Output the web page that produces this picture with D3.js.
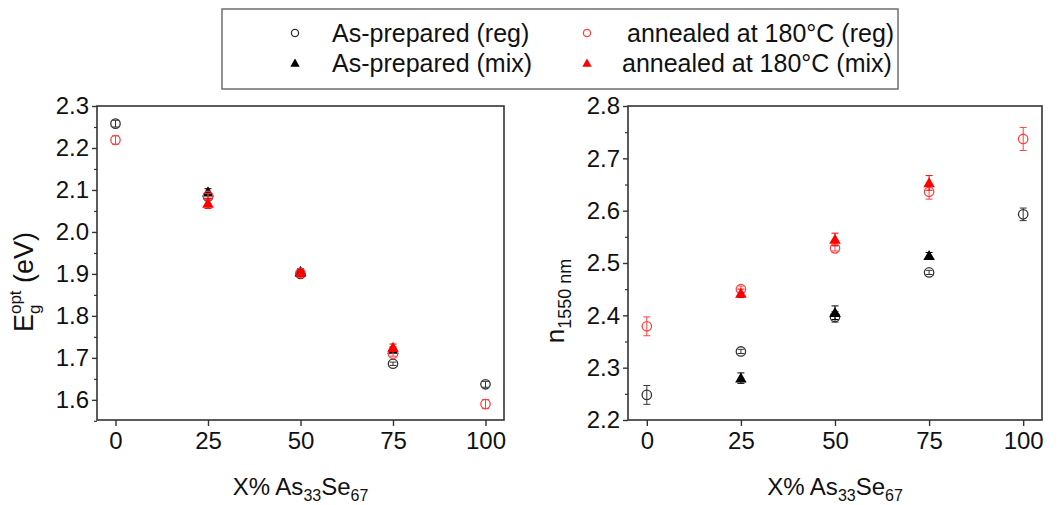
<!DOCTYPE html>
<html>
<head>
<meta charset="utf-8">
<script src="https://cdn.jsdelivr.net/npm/d3@7"></script>
<style>
  body { margin: 0; background: #fff; }
  text { font-family: "Liberation Sans", Arial, sans-serif; fill: #111; }
</style>
</head>
<body>
<script>
"use strict";

// x positions (X% As33Se67)
const xCats = [0, 25, 50, 75, 100];
const xMix = [25, 50, 75];
const xTicks = [0, 25, 50, 75, 100];

// optical band gap Eg (eV)
const egPrepReg = [2.258, 2.084, 1.900, 1.686, 1.637];
const egPrepRegErr = [0.008, 0.006, 0.005, 0.004, 0.007];
const egAnnReg = [2.219, 2.086, 1.902, 1.710, 1.590];
const egAnnRegErr = [0.010, 0.006, 0.005, 0.006, 0.011];
const egPrepMix = [2.095, 1.906, 1.720];
const egPrepMixErr = [0.008, 0.006, 0.006];
const egAnnMix = [2.068, 1.903, 1.725];
const egAnnMixErr = [0.012, 0.006, 0.008];
const egTicks = [1.6, 1.7, 1.8, 1.9, 2.0, 2.1, 2.2, 2.3];
const egMinor = [1.55, 1.65, 1.75, 1.85, 1.95, 2.05, 2.15, 2.25];

// refractive index at 1550 nm
const nPrepReg = [2.248, 2.331, 2.397, 2.482, 2.593];
const nPrepRegErr = [0.018, 0.004, 0.010, 0.004, 0.012];
const nAnnReg = [2.379, 2.450, 2.528, 2.636, 2.737];
const nAnnRegErr = [0.018, 0.006, 0.005, 0.014, 0.022];
const nPrepMix = [2.280, 2.405, 2.514];
const nPrepMixErr = [0.010, 0.013, 0.006];
const nAnnMix = [2.442, 2.545, 2.653];
const nAnnMixErr = [0.008, 0.012, 0.014];
const nTicks = [2.2, 2.3, 2.4, 2.5, 2.6, 2.7, 2.8];
const nMinor = [2.25, 2.35, 2.45, 2.55, 2.65, 2.75];

const legendLabels = ["As-prepared (reg)", "As-prepared (mix)",
                      "annealed at 180°C (reg)", "annealed at 180°C (mix)"];

const W = 1064, H = 505;
const axisColor = "#333";

// series look
const styles = {
    prepReg: {shape: "circle", color: "#333"},
    prepMix: {shape: "triangle", color: "#000"},
    annReg: {shape: "circle", color: "#ff4040"},
    annMix: {shape: "triangle", color: "#ff0000"}
};

const svg = d3.select("body").append("svg")
    .attr("width", W)
    .attr("height", H);

function drawMarker(g, shape, color, cx, cy, big) {
    if (shape === "circle") {
        g.append("circle")
            .attr("cx", cx).attr("cy", cy)
            .attr("r", big ? 4.7 : 3.6)
            .attr("fill", "none")
            .attr("stroke", color)
            .attr("stroke-width", 1.3);
    } else {
        g.append("path")
            .attr("d", d3.symbol().type(d3.symbolTriangle).size(big ? 58 : 38)())
            .attr("transform", "translate(" + cx + "," + (cy + 1) + ")")
            .attr("fill", color);
    }
}

function drawSeries(g, xScale, yScale, xs, vals, errs, st) {
    const pts = xs.map((d, i) => ({x: d, v: vals[i], e: errs[i]}));
    const grp = g.append("g");
    // error bars
    pts.forEach(p => {
        const px = xScale(p.x);
        const y0 = yScale(p.v - p.e), y1 = yScale(p.v + p.e);
        grp.append("line").attr("x1", px).attr("x2", px).attr("y1", y0).attr("y2", y1)
            .attr("stroke", st.color).attr("stroke-width", 1);
        [y0, y1].forEach(yy => grp.append("line")
            .attr("x1", px - 3.5).attr("x2", px + 3.5).attr("y1", yy).attr("y2", yy)
            .attr("stroke", st.color).attr("stroke-width", 1));
    });
    pts.forEach(p => drawMarker(grp, st.shape, st.color, xScale(p.x), yScale(p.v), true));
}

function drawPanel(cfg) {
    const xScale = d3.scaleLinear().domain([-5, 105]).range([cfg.left, cfg.right]);
    const yScale = d3.scaleLinear().domain(cfg.yDomain).range([cfg.bottom, cfg.top]);

    // x axis
    svg.append("g")
        .attr("transform", "translate(0," + cfg.bottom + ")")
        .call(d3.axisBottom(xScale).tickValues(xTicks).tickSize(6).tickPadding(6).tickSizeOuter(0))
        .call(g => g.select(".domain").remove())
        .call(g => g.selectAll("line").attr("stroke", axisColor).attr("stroke-width", 1.4))
        .call(g => g.selectAll("text").style("font-size", "24px").attr("fill", "#111"));

    // y axis major + minor
    svg.append("g")
        .attr("transform", "translate(" + cfg.left + ",0)")
        .call(d3.axisLeft(yScale).tickValues(cfg.ticks).tickFormat(d3.format(".1f"))
            .tickSize(5).tickPadding(3).tickSizeOuter(0))
        .call(g => g.select(".domain").remove())
        .call(g => g.selectAll("line").attr("stroke", axisColor).attr("stroke-width", 1.4))
        .call(g => g.selectAll("text").style("font-size", "24px").attr("fill", "#111"));
    svg.append("g")
        .attr("transform", "translate(" + cfg.left + ",0)")
        .call(d3.axisLeft(yScale).tickValues(cfg.minor).tickFormat("").tickSize(3).tickSizeOuter(0))
        .call(g => g.select(".domain").remove())
        .call(g => g.selectAll("line").attr("stroke", axisColor).attr("stroke-width", 1.2));

    // frame
    svg.append("rect")
        .attr("x", cfg.left).attr("y", cfg.top)
        .attr("width", cfg.right - cfg.left).attr("height", cfg.bottom - cfg.top)
        .attr("fill", "none").attr("stroke", axisColor).attr("stroke-width", 1.6);

    const plot = svg.append("g");
    drawSeries(plot, xScale, yScale, xCats, cfg.prepReg, cfg.prepRegErr, styles.prepReg);
    drawSeries(plot, xScale, yScale, xMix, cfg.prepMix, cfg.prepMixErr, styles.prepMix);
    drawSeries(plot, xScale, yScale, xCats, cfg.annReg, cfg.annRegErr, styles.annReg);
    drawSeries(plot, xScale, yScale, xMix, cfg.annMix, cfg.annMixErr, styles.annMix);

    // x title: X% As33Se67
    const xt = svg.append("text")
        .attr("x", (cfg.left + cfg.right) / 2)
        .attr("y", 495)
        .attr("text-anchor", "middle")
        .style("font-size", "24px");
    xt.append("tspan").text("X% As");
    xt.append("tspan").attr("dy", 6).style("font-size", "16px").text("33");
    xt.append("tspan").attr("dy", -6).text("Se");
    xt.append("tspan").attr("dy", 6).style("font-size", "16px").text("67");

    // y title
    const yt = svg.append("text")
        .attr("transform", "translate(" + cfg.yTitleX + "," + cfg.yTitleY + ") rotate(-90)")
        .attr("text-anchor", "middle")
        .style("font-size", cfg.yTitleSize);
    cfg.yTitle(yt);
}

function egTitle(t) {
    t.append("tspan").text("E");
    const sup = t.append("tspan").attr("dy", -12).style("font-size", "17px").text("opt");
    const w = sup.node().getComputedTextLength();
    const sub = t.append("tspan").attr("dx", -w).attr("dy", 19).style("font-size", "17px").text("g");
    const ws = sub.node().getComputedTextLength();
    t.append("tspan").attr("dx", w - ws).attr("dy", -7).text(" (eV)");
}

function nTitle(t) {
    t.append("tspan").text("n");
    t.append("tspan").attr("dy", 7).style("font-size", "18px").text("1550 nm");
}

drawPanel({
    left: 97, right: 504, top: 106, bottom: 420,
    yDomain: [1.552, 2.3], ticks: egTicks, minor: egMinor,
    prepReg: egPrepReg, prepRegErr: egPrepRegErr,
    prepMix: egPrepMix, prepMixErr: egPrepMixErr,
    annReg: egAnnReg, annRegErr: egAnnRegErr,
    annMix: egAnnMix, annMixErr: egAnnMixErr,
    yTitleX: 33, yTitleY: 282, yTitleSize: "27px", yTitle: egTitle
});

drawPanel({
    left: 628, right: 1042, top: 106, bottom: 420,
    yDomain: [2.2, 2.8], ticks: nTicks, minor: nMinor,
    prepReg: nPrepReg, prepRegErr: nPrepRegErr,
    prepMix: nPrepMix, prepMixErr: nPrepMixErr,
    annReg: nAnnReg, annRegErr: nAnnRegErr,
    annMix: nAnnMix, annMixErr: nAnnMixErr,
    yTitleX: 564, yTitleY: 301, yTitleSize: "26px", yTitle: nTitle
});

// legend
const legend = svg.append("g");
legend.append("rect")
    .attr("x", 222).attr("y", 9).attr("width", 676).attr("height", 80)
    .attr("fill", "#fff").attr("stroke", "#777").attr("stroke-width", 1.6);
const legendItems = [
    {label: legendLabels[0], st: styles.prepReg, mx: 295, tx: 332, row: 0},
    {label: legendLabels[1], st: styles.prepMix, mx: 295, tx: 332, row: 1},
    {label: legendLabels[2], st: styles.annReg, mx: 587, tx: 627, row: 0},
    {label: legendLabels[3], st: styles.annMix, mx: 587, tx: 622, row: 1}
];
legendItems.forEach(it => {
    const cy = 33 + it.row * 30;
    drawMarker(legend, it.st.shape, it.st.color, it.mx, cy, false);
    legend.append("text")
        .attr("x", it.tx).attr("y", cy + 9)
        .style("font-size", "25px")
        .text(it.label);
});
</script>
</body>
</html>
